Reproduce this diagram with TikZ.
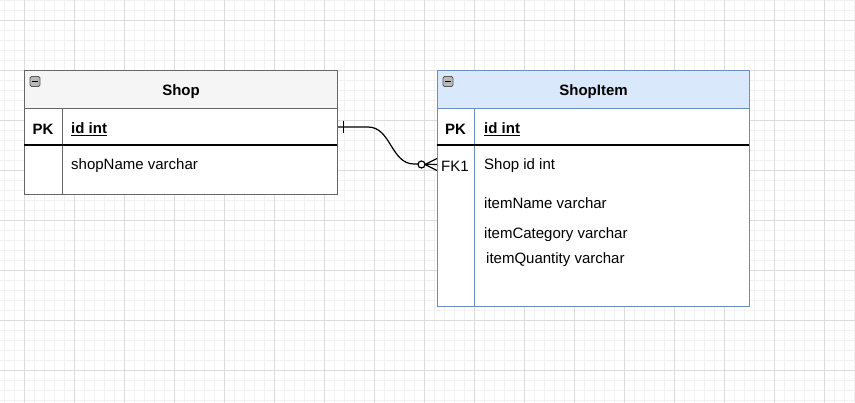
\documentclass[tikz,border=0pt]{standalone}
\usepackage{fontspec}
\setmainfont{Liberation Sans}
\usetikzlibrary{arrows.meta}

\definecolor{shopline}{HTML}{666666}
\definecolor{shophead}{HTML}{F5F5F5}
\definecolor{itemline}{HTML}{6C8EBF}
\definecolor{itemhead}{HTML}{DAE8FC}
\definecolor{gridminor}{HTML}{F2F2F2}
\definecolor{gridmajor}{HTML}{DCDCDC}

\tikzset{
    txt/.style={inner sep=0pt, yshift=-2pt, font=\fontsize{15}{18}\selectfont},
    field/.style={txt, anchor=west},
    keycol/.style={txt, font=\fontsize{15}{18}\selectfont\bfseries},
    title/.style={txt, font=\fontsize{15}{18}\selectfont\bfseries},
    box/.style={rectangle, anchor=north west, inner sep=0pt, line width=1pt},
    foldbox/.style={rectangle, draw=gray!70!black, fill=gray!55, rounded corners=1.5pt,
        line width=0.8pt, minimum width=10, minimum height=10, inner sep=0pt},
    conn/.style={line width=1.2pt, black},
}

\begin{document}
\begin{tikzpicture}[x=1pt, y=-1pt]

    \useasboundingbox (0,0) rectangle (855,403);

    % grid
    \foreach \x in {4,14,...,854} \draw[gridminor, line width=0.8pt] (\x,0) -- (\x,403);
    \foreach \y in {0,10,...,400} \draw[gridminor, line width=0.8pt] (0,\y) -- (855,\y);
    \foreach \x in {24,74,...,824} \draw[gridmajor, line width=0.8pt] (\x,0) -- (\x,403);
    \foreach \y in {20,70,...,370} \draw[gridmajor, line width=0.8pt] (0,\y) -- (855,\y);

    % Shop
    \node[box, draw=shopline, fill=white, minimum width=313, minimum height=86] (shopBody) at (24,108) {};
    \node[box, draw=shopline, fill=shophead, minimum width=313, minimum height=38] (shopHead) at (24,70) {};
    \node[title] (shopTitle) at (shopHead.center) {Shop};
    \node[foldbox] (shopFold) at (35,81.5) {};
    \draw[line width=1.6pt] ([xshift=2.5]shopFold.west) -- ([xshift=-2.5]shopFold.east);
    \node[box, minimum width=313, minimum height=37] (shopKeyRow) at (24,108) {};
    \draw[shopline, line width=1pt] (62,108) -- (62,194); % key column
    \draw[black, line width=1.6pt] (24,145) -- (337,145);
    \node[keycol] (shopPK) at (43,127) {PK};
    \node[field, font=\fontsize{15}{18}\selectfont\bfseries] (shopId) at (71,127) {\underline{id int}};
    \node[field] (shopName) at (71,164) {shopName varchar};

    % ShopItem
    \node[box, draw=itemline, fill=white, minimum width=312, minimum height=198] (itemBody) at (437,108) {};
    \node[box, draw=itemline, fill=itemhead, minimum width=312, minimum height=38] (itemHead) at (437,70) {};
    \node[title] (itemTitle) at (itemHead.center) {ShopItem};
    \node[foldbox] (itemFold) at (448,81.5) {};
    \draw[line width=1.6pt] ([xshift=2.5]itemFold.west) -- ([xshift=-2.5]itemFold.east);
    \node[box, minimum width=312, minimum height=38] (itemFKRow) at (437,145) {};
    \draw[itemline, line width=1pt] (474,108) -- (474,306); % key column
    \draw[black, line width=1.6pt] (437,145) -- (749,145);
    \node[keycol] (itemPK) at (455.5,127) {PK};
    \node[field, font=\fontsize{15}{18}\selectfont\bfseries] (itemId) at (484,127) {\underline{id int}};
    \node[txt] (itemFK) at (455,164) {FK1};
    \node[field] (itemShopId) at (484,164) {Shop id int};
    \node[field] (itemName) at (484,201) {itemName varchar};
    \node[field] (itemCategory) at (484,233) {itemCategory varchar};
    \node[field] (itemQuantity) at (486,258) {itemQuantity varchar};

    % Shop 1 -- 0..n ShopItem
    \draw[conn] (shopKeyRow.east) -- ++(30,0) to[out=0, in=180] ++(46,37) -- (itemFKRow.west);
    \draw[conn, line width=1pt] ([xshift=5]shopKeyRow.east) ++(0,-6) -- ++(0,12); % one
    \draw[conn] ([xshift=-12]itemFKRow.west) -- ++(12,-6); % many
    \draw[conn] ([xshift=-12]itemFKRow.west) -- ++(12,6);
    \draw[conn, fill=white] ([xshift=-15.5]itemFKRow.west) circle[radius=3.5]; % zero

\end{tikzpicture}
\end{document}
